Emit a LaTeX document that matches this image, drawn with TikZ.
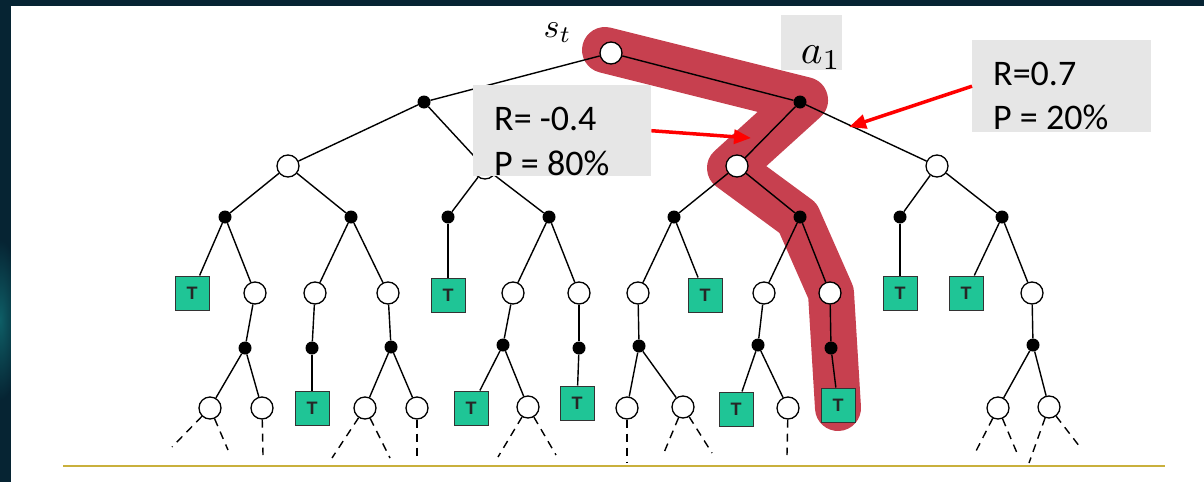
\documentclass[tikz,border=0pt]{standalone}
\usepackage{fontspec}
\newfontfamily\calib{Carlito}
\newfontfamily\arialf{Liberation Sans}
\usetikzlibrary{arrows.meta}
\definecolor{bgdark}{HTML}{062433}
\definecolor{bgglow}{HTML}{0E5E66}
\definecolor{hilite}{HTML}{C7404F}
\definecolor{tgreen}{HTML}{1FC596}
\definecolor{boxgray}{HTML}{E6E6E6}
\definecolor{rule}{HTML}{C9B03C}
\tikzset{
  stnode/.style={circle, draw=black, fill=white, minimum size=22pt, inner sep=0pt, line width=1.3pt},
  chnode/.style={circle, fill=black, minimum size=13pt, inner sep=0pt},
  tbox/.style={draw=black!80, fill=tgreen, minimum size=34pt, inner sep=0pt, line width=1pt,
    font=\arialf\bfseries\fontsize{18}{18}\selectfont, text=black!85},
  edge/.style={line width=1.4pt, black},
  dashedge/.style={line width=1.4pt, black, dash pattern=on 8pt off 6pt},
  graybox/.style={fill=boxgray, inner sep=0pt, anchor=north west},
  lbl/.style={font=\calib\fontsize{36}{36}\selectfont, inner sep=0pt, anchor=base west},
  mathlbl/.style={inner sep=0pt, anchor=base west, transform shape=false},
  callout/.style={red, line width=3.5pt, -{Triangle[length=17pt,width=14pt]}}
}
\begin{document}
\begin{tikzpicture}[x=1pt,y=-1pt]
\useasboundingbox (0,0) rectangle (1204,482);
% frame and white panel
\fill[bgdark] (0,0) rectangle (1204,482);
\begin{scope}
  \clip (0,0) rectangle (11,482);
  \shade[inner color=bgglow, outer color=bgdark] (0,320) ellipse (22pt and 80pt);
\end{scope}
\fill[white] (11,6) rectangle (1204,482);

% highlighted trajectory
\draw[hilite, line width=46pt, line cap=round, line join=round]
  (605,50) -- (805,100) -- (730,168) -- (798,218) -- (831,293) -- (838,408);

% nodes
\node[stnode] (n0) at (611,53) {};
\node[chnode] (c1a) at (424,102) {};
\node[chnode] (c1b) at (800,102) {};

\node[stnode] (s2a) at (288,166) {};
\node[stnode] (s2b) at (485,168) {};
\node[stnode] (s2c) at (737,166) {};
\node[stnode] (s2d) at (937,166) {};

\node[chnode] (c3a) at (225,217) {};
\node[chnode] (c3b) at (351,217) {};
\node[chnode] (c3c) at (448,217) {};
\node[chnode] (c3d) at (549,217) {};
\node[chnode] (c3e) at (674,217) {};
\node[chnode] (c3f) at (800,217) {};
\node[chnode] (c3g) at (900,217) {};
\node[chnode] (c3h) at (1002,217) {};

\node[tbox]   (t4a) at (192,293) {T};
\node[stnode] (s4b) at (255,293) {};
\node[stnode] (s4c) at (315,293) {};
\node[stnode] (s4d) at (388,293) {};
\node[tbox]   (t4e) at (448,295) {T};
\node[stnode] (s4f) at (513,293) {};
\node[stnode] (s4g) at (579,293) {};
\node[stnode] (s4h) at (638,293) {};
\node[tbox]   (t4i) at (705,295) {T};
\node[stnode] (s4j) at (764,293) {};
\node[stnode] (s4k) at (830,293) {};
\node[tbox]   (t4l) at (900,293) {T};
\node[tbox]   (t4m) at (966,293) {T};
\node[stnode] (s4n) at (1032,293) {};

\node[chnode] (c5a) at (245,348) {};
\node[chnode] (c5b) at (312,348) {};
\node[chnode] (c5c) at (391,347) {};
\node[chnode] (c5d) at (503,345) {};
\node[chnode] (c5e) at (579,348) {};
\node[chnode] (c5f) at (639,346) {};
\node[chnode] (c5g) at (758,345) {};
\node[chnode] (c5h) at (831,348) {};
\node[chnode] (c5i) at (1033,345) {};

\node[stnode] (s6a) at (210,408) {};
\node[stnode] (s6b) at (262,408) {};
\node[tbox]   (t6c) at (312,408) {T};
\node[stnode] (s6d) at (365,408) {};
\node[stnode] (s6e) at (417,408) {};
\node[tbox]   (t6f) at (471,408) {T};
\node[stnode] (s6g) at (528,407) {};
\node[tbox]   (t6h) at (577,403) {T};
\node[stnode] (s6i) at (627,408) {};
\node[stnode] (s6j) at (683,407) {};
\node[tbox]   (t6k) at (736,409) {T};
\node[stnode] (s6l) at (788,408) {};
\node[tbox]   (t6m) at (838,405) {T};
\node[stnode] (s6n) at (998,408) {};
\node[stnode] (s6o) at (1049,407) {};

% open ends of the tree
\coordinate (e1) at (172,447);  \coordinate (e2) at (228,450);
\coordinate (e3) at (263,455);
\coordinate (e4) at (332,458);  \coordinate (e5) at (390,458);
\coordinate (e6) at (417,461);
\coordinate (e7) at (498,457);  \coordinate (e8) at (556,455);
\coordinate (e9) at (627,462);
\coordinate (e10) at (663,455); \coordinate (e11) at (712,453);
\coordinate (e12) at (787,455);
\coordinate (e13) at (975,453); \coordinate (e14) at (1017,453);
\coordinate (e15) at (1029,463); \coordinate (e16) at (1080,447);

% edges
\draw[edge] (n0) -- (c1a);  \draw[edge] (n0) -- (c1b);
\draw[edge] (c1a) -- (s2a); \draw[edge] (c1a) -- (s2b);
\draw[edge] (c1b) -- (s2c); \draw[edge] (c1b) -- (s2d);
\draw[edge] (s2a) -- (c3a); \draw[edge] (s2a) -- (c3b);
\draw[edge] (s2b) -- (c3c); \draw[edge] (s2b) -- (c3d);
\draw[edge] (s2c) -- (c3e); \draw[edge] (s2c) -- (c3f);
\draw[edge] (s2d) -- (c3g); \draw[edge] (s2d) -- (c3h);
\draw[edge] (c3a) -- (t4a); \draw[edge] (c3a) -- (s4b);
\draw[edge] (c3b) -- (s4c); \draw[edge] (c3b) -- (s4d);
\draw[edge] (c3c) -- (t4e);
\draw[edge] (c3d) -- (s4f); \draw[edge] (c3d) -- (s4g);
\draw[edge] (c3e) -- (s4h); \draw[edge] (c3e) -- (t4i);
\draw[edge] (c3f) -- (s4j); \draw[edge] (c3f) -- (s4k);
\draw[edge] (c3g) -- (t4l);
\draw[edge] (c3h) -- (t4m); \draw[edge] (c3h) -- (s4n);
\draw[edge] (s4b) -- (c5a); \draw[edge] (s4c) -- (c5b);
\draw[edge] (s4d) -- (c5c); \draw[edge] (s4f) -- (c5d);
\draw[edge] (s4g) -- (c5e); \draw[edge] (s4h) -- (c5f);
\draw[edge] (s4j) -- (c5g); \draw[edge] (s4k) -- (c5h);
\draw[edge] (s4n) -- (c5i);
\draw[edge] (c5a) -- (s6a); \draw[edge] (c5a) -- (s6b);
\draw[edge] (c5b) -- (t6c);
\draw[edge] (c5c) -- (s6d); \draw[edge] (c5c) -- (s6e);
\draw[edge] (c5d) -- (t6f); \draw[edge] (c5d) -- (s6g);
\draw[edge] (c5e) -- (t6h);
\draw[edge] (c5f) -- (s6i); \draw[edge] (c5f) -- (s6j);
\draw[edge] (c5g) -- (t6k); \draw[edge] (c5g) -- (s6l);
\draw[edge] (c5h) -- (t6m);
\draw[edge] (c5i) -- (s6n); \draw[edge] (c5i) -- (s6o);

\draw[dashedge] (s6a) -- (e1);  \draw[dashedge] (s6a) -- (e2);
\draw[dashedge] (s6b) -- (e3);
\draw[dashedge] (s6d) -- (e4);  \draw[dashedge] (s6d) -- (e5);
\draw[dashedge] (s6e) -- (e6);
\draw[dashedge] (s6g) -- (e7);  \draw[dashedge] (s6g) -- (e8);
\draw[dashedge] (s6i) -- (e9);
\draw[dashedge] (s6j) -- (e10); \draw[dashedge] (s6j) -- (e11);
\draw[dashedge] (s6l) -- (e12);
\draw[dashedge] (s6n) -- (e13); \draw[dashedge] (s6n) -- (e14);
\draw[dashedge] (s6o) -- (e15); \draw[dashedge] (s6o) -- (e16);

% bottom rule
\coordinate (rl) at (63,466);
\coordinate (rr) at (1165,466);
\draw[rule, line width=2.5pt] (rl) -- (rr);

% labels
\node[mathlbl, scale=3.4] (lst) at (543,37) {$s_t$};
\node[graybox, minimum width=61pt, minimum height=55pt] (abox) at (781,15) {};
\node[mathlbl, scale=4.1] (la1) at (800,63) {$a_1$};

\node[graybox, minimum width=178pt, minimum height=91pt] (rbox1) at (473,85) {};
\node[lbl] (r1a) at (494,130) {R= -0.4};
\node[lbl] (r1b) at (494,175) {P = 80\%};

\node[graybox, minimum width=179pt, minimum height=92pt] (rbox2) at (972,40) {};
\node[lbl] (r2a) at (993,85) {R=0.7};
\node[lbl] (r2b) at (993,129) {P = 20\%};

% callout arrows
\coordinate (tipL) at (751,138);
\coordinate (tipR) at (849,127);
\draw[callout] (rbox1.east) -- (tipL);
\draw[callout] (rbox2.west) -- (tipR);
\end{tikzpicture}
\end{document}
